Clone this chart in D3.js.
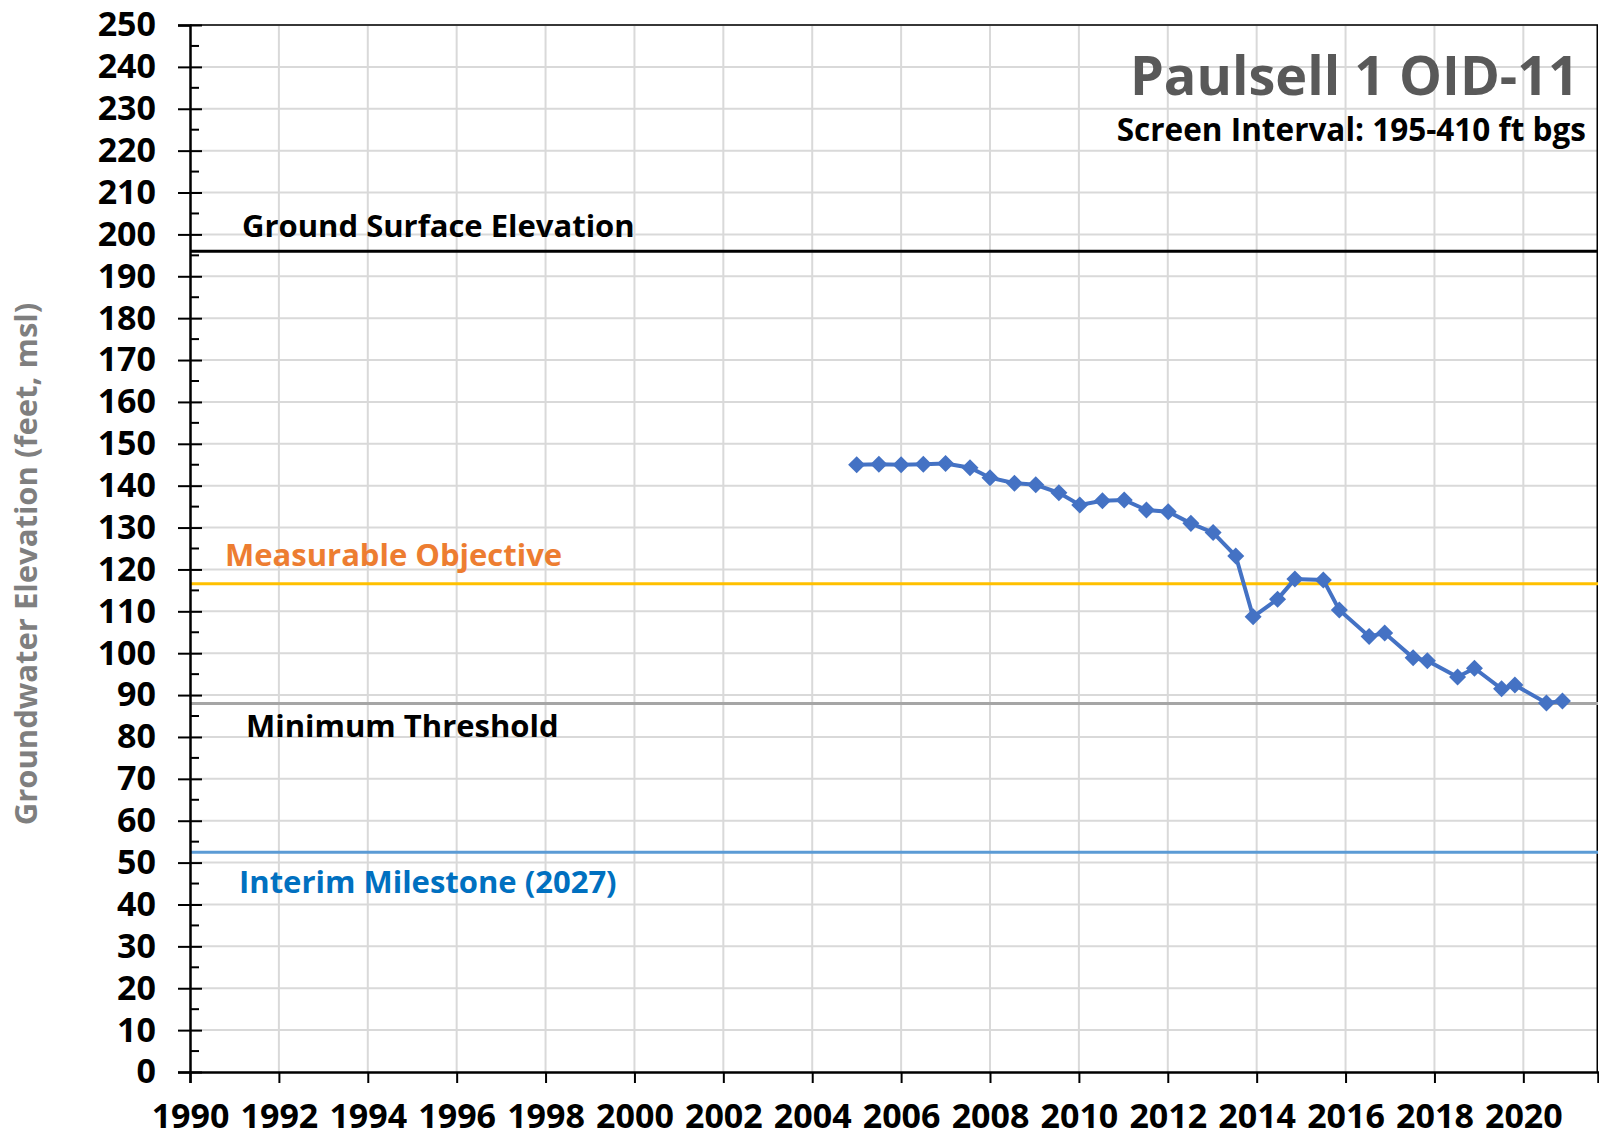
<!DOCTYPE html>
<html>
<head>
<meta charset="utf-8">
<script src="https://cdn.jsdelivr.net/npm/d3@7"></script>
<style>
  body { margin: 0; background: #fff; }
  text { font-family: "Open Sans", sans-serif; font-weight: bold; }
</style>
</head>
<body>
<div id="chart"></div>
<script>
// Measurement dates (decimal years) and groundwater elevations (feet, msl)
const dates = [2005.0, 2005.5, 2006.0, 2006.5, 2007.0, 2007.55, 2008.0, 2008.55, 2009.03, 2009.55,
  2010.02, 2010.53, 2011.02, 2011.52, 2012.01, 2012.52, 2013.02, 2013.53, 2013.92, 2014.47,
  2014.86, 2015.5, 2015.86, 2016.53, 2016.88, 2017.52, 2017.84, 2018.52, 2018.9, 2019.51,
  2019.81, 2020.52, 2020.88]
const elevations = [145.0, 145.1, 145.0, 145.1, 145.3, 144.3, 141.9, 140.6, 140.2, 138.3,
  135.4, 136.4, 136.6, 134.2, 133.8, 131.0, 128.8, 123.2, 108.7, 112.9,
  117.7, 117.5, 110.3, 104.0, 104.8, 98.9, 98.2, 94.3, 96.4, 91.5,
  92.4, 88.1, 88.6]

// Reference levels
const refNames = ['Ground Surface Elevation', 'Measurable Objective', 'Minimum Threshold', 'Interim Milestone (2027)']
const refValues = [196, 116.6, 88, 52.5]

// Axis ticks
const xTicks = d3.range(1990, 2021, 2)
const yTicks = d3.range(0, 251, 10)
const yMinorTicks = d3.range(5, 250, 10)

const width = 1599
const height = 1137
const margin = { top: 25, right: 1, bottom: 65, left: 190 }

const svg = d3.select('#chart').append('svg').attr('width', width).attr('height', height)

const x = d3.scaleLinear().domain([1990, 2021.68]).range([margin.left, width - margin.right])
const y = d3.scaleLinear().domain([0, 250]).range([height - margin.bottom, margin.top])

// Gridlines
svg.append('g').selectAll('line').data(xTicks.slice(1)).join('line')
  .attr('x1', d => x(d)).attr('x2', d => x(d))
  .attr('y1', y(250)).attr('y2', y(0))
  .attr('stroke', '#d9d9d9').attr('stroke-width', 2)
svg.append('g').selectAll('line').data(yTicks.slice(1)).join('line')
  .attr('x1', x(1990)).attr('x2', x.range()[1])
  .attr('y1', d => y(d)).attr('y2', d => y(d))
  .attr('stroke', '#d9d9d9').attr('stroke-width', 2)

// Top and right border
svg.append('line').attr('x1', x(1990)).attr('x2', x.range()[1]).attr('y1', y(250)).attr('y2', y(250))
  .attr('stroke', '#000').attr('stroke-width', 1.5)
svg.append('line').attr('x1', x.range()[1] - 0.75).attr('x2', x.range()[1] - 0.75).attr('y1', y(250)).attr('y2', y(0))
  .attr('stroke', '#000').attr('stroke-width', 1.5)

// Reference lines
const refColors = ['#000000', '#ffc000', '#a5a5a5', '#5b9bd5']
const labelColors = ['#000000', '#ed7d31', '#000000', '#0070c0']
svg.append('g').selectAll('line').data(refValues).join('line')
  .attr('x1', x(1990)).attr('x2', x.range()[1])
  .attr('y1', d => y(d)).attr('y2', d => y(d))
  .attr('stroke', (d, i) => refColors[i]).attr('stroke-width', 3)

// Reference labels
const labelX = [242, 225, 246, 239]
const labelY = [237, 566, 737, 893]
svg.append('g').selectAll('text').data(refNames).join('text')
  .attr('x', (d, i) => labelX[i]).attr('y', (d, i) => labelY[i])
  .attr('font-size', '31px')
  .attr('fill', (d, i) => labelColors[i])
  .text(d => d)

// Y axis
const yAxis = svg.append('g').attr('transform', `translate(${x(1990)},0)`)
  .call(d3.axisLeft(y).tickValues(yTicks).tickSize(12).tickPadding(22).tickFormat(d3.format('d')))
yAxis.select('.domain').attr('stroke-width', 2.5)
yAxis.selectAll('.tick line').attr('stroke-width', 2).attr('x2', -12).attr('x1', 12)
yAxis.selectAll('.tick text').attr('font-size', '34px').attr('fill', '#000')
  .attr('font-family', '"Open Sans", sans-serif').attr('font-weight', 'bold')
svg.append('g').selectAll('line').data(yMinorTicks).join('line')
  .attr('x1', x(1990)).attr('x2', x(1990) + 9)
  .attr('y1', d => y(d)).attr('y2', d => y(d))
  .attr('stroke', '#000').attr('stroke-width', 2)

// X axis
const xAxis = svg.append('g').attr('transform', `translate(0,${y(0)})`)
  .call(d3.axisBottom(x).tickValues(xTicks).tickSize(11).tickPadding(21).tickFormat(d3.format('d')))
xAxis.select('.domain').attr('stroke-width', 2.5)
xAxis.selectAll('.tick line').attr('stroke-width', 2)
xAxis.selectAll('.tick text').attr('font-size', '34px').attr('fill', '#000')
  .attr('font-family', '"Open Sans", sans-serif').attr('font-weight', 'bold')

// Data line with diamond markers
const points = dates.map((d, i) => [d, elevations[i]])
svg.append('path').datum(points)
  .attr('fill', 'none').attr('stroke', '#4472c4').attr('stroke-width', 4)
  .attr('d', d3.line().x(d => x(d[0])).y(d => y(d[1])))
svg.append('g').selectAll('path').data(points).join('path')
  .attr('d', d3.symbol().type(d3.symbolSquare).size(145))
  .attr('transform', d => `translate(${x(d[0])},${y(d[1])}) rotate(45)`)
  .attr('fill', '#4472c4')

// Titles
svg.append('text').attr('x', 1579).attr('y', 95).attr('text-anchor', 'end')
  .attr('font-size', '54px').attr('fill', '#595959').text('Paulsell 1 OID-11')
svg.append('text').attr('x', 1586).attr('y', 141).attr('text-anchor', 'end')
  .attr('font-size', '31.5px').attr('fill', '#000').text('Screen Interval: 195-410 ft bgs')

// Y axis title
svg.append('text')
  .attr('transform', 'translate(37,564) rotate(-90)')
  .attr('text-anchor', 'middle')
  .attr('font-size', '31px').attr('fill', '#7f7f7f')
  .text('Groundwater Elevation (feet, msl)')
</script>
</body>
</html>
